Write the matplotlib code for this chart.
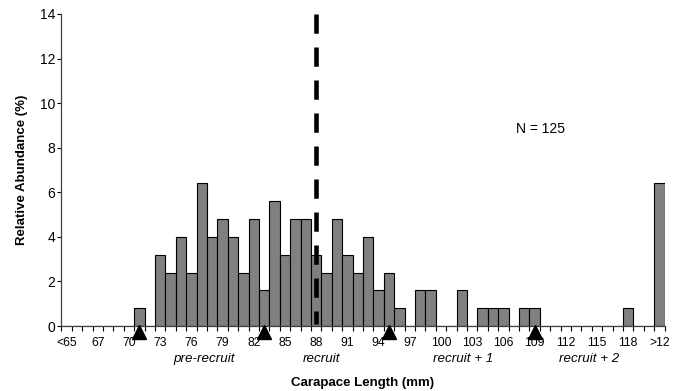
import matplotlib
matplotlib.use("Agg")
import matplotlib.pyplot as plt
import numpy as np

plt.rcParams['font.family'] = ['Liberation Sans', 'DejaVu Sans']

# Categories: <65, 65..120, >120
categories = ["<65"] + [str(v) for v in range(65, 121)] + [">12"]
# Relative abundance (%) per category (1 crab = 0.8 %)
abund = {
    "71": 0.8, "73": 3.2, "74": 2.4, "75": 4.0, "76": 2.4, "77": 6.4,
    "78": 4.0, "79": 4.8, "80": 4.0, "81": 2.4, "82": 4.8, "83": 1.6,
    "84": 5.6, "85": 3.2, "86": 4.8, "87": 4.8, "88": 3.2, "89": 2.4,
    "90": 4.8, "91": 3.2, "92": 2.4, "93": 4.0, "94": 1.6, "95": 2.4,
    "96": 0.8, "98": 1.6, "99": 1.6, "102": 1.6, "104": 0.8, "105": 0.8,
    "106": 0.8, "108": 0.8, "109": 0.8, "118": 0.8, ">12": 6.4,
}
values = [abund.get(c, 0.0) for c in categories]
tick_labels = categories[::3]
marker_cats = ["71", "83", "95", "109"]
cutoff_cat = "88"
region_labels = ["pre-recruit", "recruit", "recruit + 1", "recruit + 2"]
region_pos = [13.2, 24.5, 38.1, 50.2]
n_text = "N = 125"

fig = plt.figure(figsize=(6.73, 3.91), dpi=100)
ax = fig.add_axes([0.0912, 0.1662, 0.8963, 0.798])

x = np.arange(len(categories))
ax.bar(x, values, width=1.0, color="#808080", edgecolor="black", linewidth=0.8, zorder=2)

ax.set_xlim(-0.5, len(categories) - 0.5)
ax.set_ylim(0, 14)
ax.set_yticks(np.arange(0, 15, 2))
ax.tick_params(axis='y', direction='out', length=3, width=0.8, labelsize=10, pad=1.5)

ax.set_xticks(x[::3])
ax.set_xticklabels(tick_labels, fontsize=8.7)
ax.set_xticks(np.arange(-0.5, len(categories) + 0.5, 1.0), minor=True)
ax.tick_params(axis='x', which='major', length=0, pad=8)
ax.tick_params(axis='x', which='minor', direction='out', length=3.5, width=0.8)

for s in ["top", "right"]:
    ax.spines[s].set_visible(False)
for s in ["left", "bottom"]:
    ax.spines[s].set_linewidth(0.9)
    ax.spines[s].set_color("#404040")

# cutoff line
ci = categories.index(cutoff_cat)
ax.plot([ci, ci], [14, 0.1], color="black", lw=3.3,
        linestyle=(0, (4.2, 3.0)), zorder=3, solid_capstyle='butt',
        dash_capstyle='butt', clip_on=False)

# triangles
mx = [categories.index(c) for c in marker_cats]
ax.plot(mx, [-0.29] * len(mx), linestyle='none', marker='^', markersize=9.5,
        color='black', clip_on=False, zorder=4)

for lbl, px in zip(region_labels, region_pos):
    ax.text(px, -0.107, lbl, transform=ax.get_xaxis_transform(), ha='center',
            va='center', fontsize=9.6, style='italic')

ax.text(43.2, 8.83, n_text, ha='left', va='center', fontsize=10)

ax.set_xlabel("Carapace Length (mm)", fontsize=9.5, fontweight='bold')
ax.xaxis.set_label_coords(0.5, -0.163)
ax.set_ylabel("Relative Abundance (%)", fontsize=9.5, fontweight='bold')
ax.yaxis.set_label_coords(-0.056, 0.5)

fig.savefig("out.png", dpi=100)
